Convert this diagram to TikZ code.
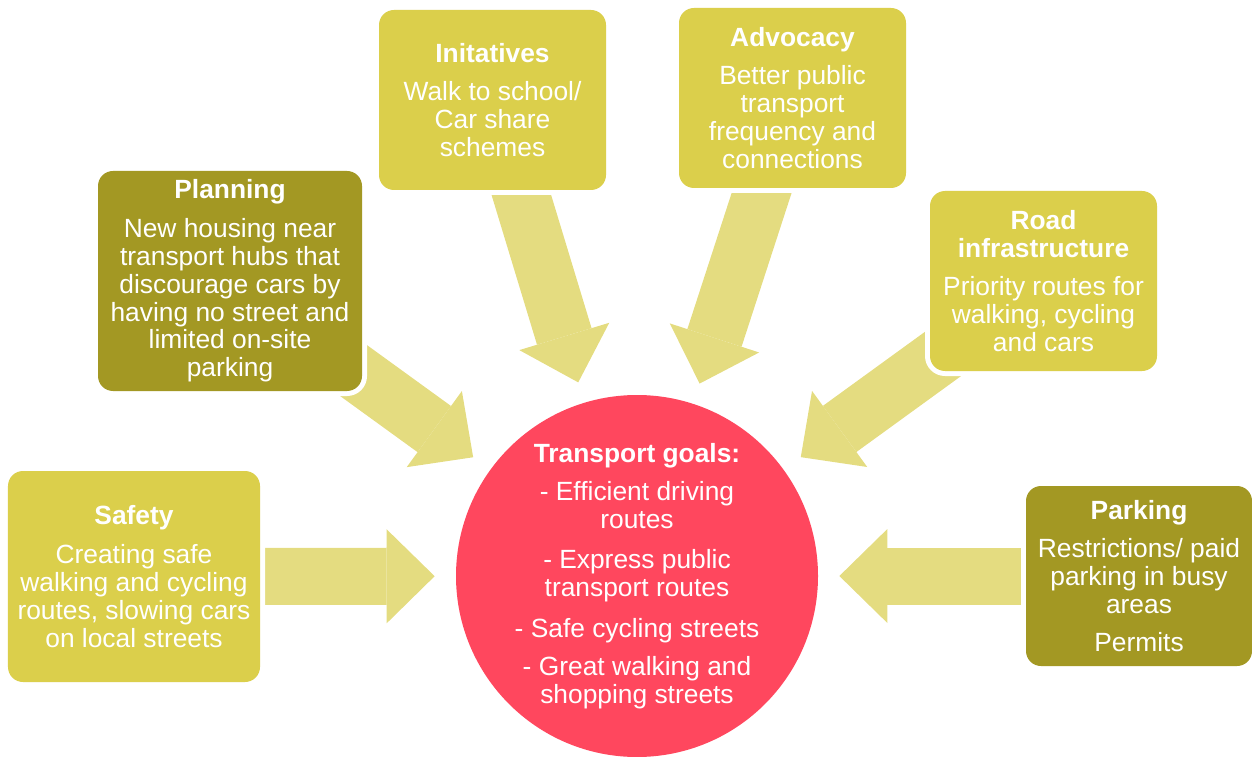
\documentclass[tikz,border=0pt]{standalone}
\usepackage{fontspec}
\setmainfont{Liberation Sans}
\usetikzlibrary{arrows.meta,backgrounds}

\definecolor{olivebox}{RGB}{163,152,35}
\definecolor{yellowbox}{RGB}{219,207,75}
\definecolor{arrowfill}{RGB}{228,220,128}
\definecolor{goalred}{RGB}{255,71,94}

\tikzset{
    topic/.style={fill=#1, rounded corners=0.3cm, text=white, align=center, inner sep=0pt,
        preaction={draw=white, line width=0.2cm}, font=\fontsize{15}{15.9}\selectfont},
    feed/.style={draw=arrowfill, line width=1.14cm,
        -{Triangle[length=0.96cm, width=1.88cm, line width=0pt]}, shorten >=0.42cm}
}

\begin{document}
\begin{tikzpicture}
    % Fix the page to the size of the picture
    \useasboundingbox (0,0) rectangle (25.04,15.12);

    % The goals in the middle
    \node[circle, fill=goalred, minimum size=7.24cm, inner sep=0pt, text=white, align=center,
        font=\fontsize{15}{15.9}\selectfont] (goals) at (12.74,3.6)
        {\textbf{Transport goals:}\\[6pt]
         - Efficient driving\\routes\\[7pt]
         - Express public\\transport routes\\[7pt]
         - Safe cycling streets\\[6pt]
         - Great walking and\\shopping streets};

    % The six measures round it
    \node[topic=yellowbox, minimum width=5.04cm, minimum height=4.22cm] (safety) at (2.68,3.59)
        {\textbf{Safety}\\[6pt] Creating safe\\walking and cycling\\routes, slowing cars\\on local streets};
    \node[topic=olivebox, minimum width=5.28cm, minimum height=4.4cm] (plan) at (4.6,9.5)
        {\textbf{Planning}\\[6pt] New housing near\\transport hubs that\\discourage cars by\\having no street and\\limited on-site\\parking};
    \node[topic=yellowbox, minimum width=4.54cm, minimum height=3.6cm] (init) at (9.85,13.12)
        {\textbf{Initatives}\\[6pt] Walk to school/\\Car share\\schemes};
    \node[topic=yellowbox, minimum width=4.54cm, minimum height=3.6cm] (advoc) at (15.85,13.16)
        {\textbf{Advocacy}\\[6pt] Better public\\transport\\frequency and\\connections};
    \node[topic=yellowbox, minimum width=4.54cm, minimum height=3.6cm] (road) at (20.87,9.5)
        {\textbf{Road}\\\textbf{infrastructure}\\[6pt] Priority routes for\\walking, cycling\\and cars};
    \node[topic=olivebox, minimum width=4.52cm, minimum height=3.6cm] (park) at (22.78,3.6)
        {\textbf{Parking}\\[6pt] Restrictions/ paid\\parking in busy\\areas\\[5.5pt] Permits};

    % Block arrows towards the goals, behind the boxes
    \begin{pgfonlayer}{background}
        \foreach \src in {safety,plan,init,advoc,road,park}
            \draw[feed] (\src.center) -- (goals);
    \end{pgfonlayer}
\end{tikzpicture}
\end{document}
